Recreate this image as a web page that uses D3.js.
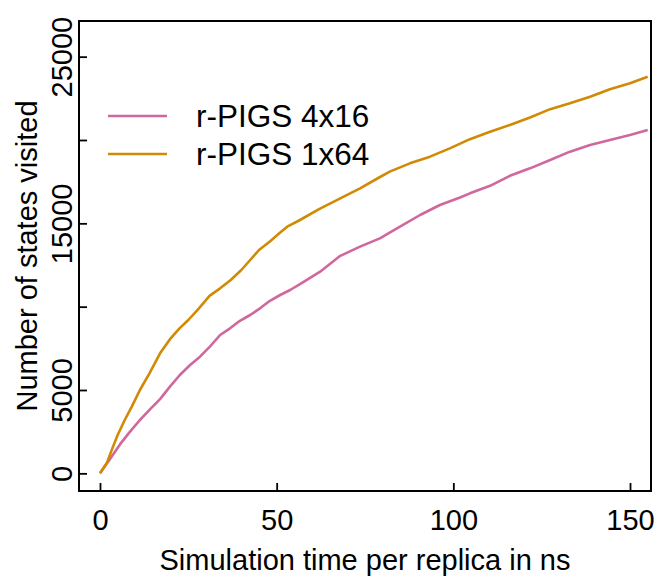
<!DOCTYPE html>
<html>
<head>
<meta charset="utf-8">
<script src="https://cdn.jsdelivr.net/npm/d3@7"></script>
<style>
  body { margin: 0; background: #fff; }
  text { font-family: "Liberation Sans", Arial, sans-serif; fill: #000; }
</style>
</head>
<body>
<script>
//values (time in ns, states visited)
var time4x16 = [0, 2.8, 5.7, 8.5, 11.3, 14.2, 17, 19.8, 22.6, 25.5, 28.3, 31.1, 34, 36.8, 39.6, 42.5, 45.3, 48.1, 51, 53.8,
  56.6, 62.3, 68, 73.6, 79.2, 84.9, 90.6, 96.2, 101.9, 104.7, 110.4, 116, 121.7, 127.4, 133, 138.7, 144.3, 150, 155];
var states4x16 = [0, 850, 1750, 2500, 3200, 3850, 4450, 5200, 5900, 6500, 7000, 7600, 8300, 8700, 9150, 9500, 9900, 10350, 10700, 11000,
  11350, 12100, 13050, 13600, 14100, 14800, 15500, 16100, 16550, 16800, 17250, 17850, 18300, 18800, 19300, 19700, 20000, 20300, 20600];

var time1x64 = [0, 2, 3.5, 5, 7, 9, 11.3, 14, 17, 20, 22.5, 25, 28, 31, 34, 37, 40, 42.5, 45, 48, 51, 53,
  56.6, 62, 68, 73.6, 79, 82, 87.7, 93.4, 99, 104.7, 110.4, 116, 121.7, 127.4, 133, 138.7, 144.3, 150, 155];
var states1x64 = [0, 650, 1500, 2300, 3200, 4000, 5000, 6000, 7200, 8100, 8700, 9200, 9900, 10650, 11100, 11600, 12200, 12800, 13400, 13900, 14450, 14800,
  15200, 15850, 16500, 17100, 17750, 18100, 18600, 19000, 19500, 20050, 20500, 20900, 21350, 21850, 22200, 22600, 23050, 23400, 23800];

var seriesNames = ["r-PIGS 4x16", "r-PIGS 1x64"];
var seriesColors = ["#d0679d", "#d18a04"];
var xTicks = [0, 50, 100, 150];
var yTicks = [0, 5000, 10000, 15000, 20000, 25000];
var yLabelled = [0, 5000, 15000, 25000]; //R drops the labels that would overlap

var width = 659, height = 577;
var fontSize = 29;

var svg = d3.select("body").append("svg")
    .attr("width", width)
    .attr("height", height);

var x = d3.scaleLinear().domain([-5.94, 155.94]).range([79, 651]);
var y = d3.scaleLinear().domain([-1060, 27140]).range([491, 21]);

//x axis, ticks point inward
svg.append("g")
    .attr("transform", "translate(0,491)")
    .call(d3.axisBottom(x).tickValues(xTicks).tickSizeInner(-8).tickSizeOuter(0).tickPadding(18))
    .call(function(g){
        g.select(".domain").remove();
        g.selectAll("line").attr("stroke", "#000").attr("stroke-width", 1.8);
        g.selectAll("text").attr("font-size", fontSize).attr("font-family", null);
    });

//y axis with rotated labels
svg.append("g")
    .attr("transform", "translate(79,0)")
    .call(d3.axisLeft(y).tickValues(yTicks).tickSizeInner(-8).tickSizeOuter(0)
        .tickFormat(function(d){ return yLabelled.indexOf(d) >= 0 ? d : ""; }))
    .call(function(g){
        g.select(".domain").remove();
        g.selectAll("line").attr("stroke", "#000").attr("stroke-width", 1.8);
        g.selectAll("text")
            .attr("font-size", fontSize)
            .attr("font-family", null)
            .attr("x", null).attr("dy", null)
            .attr("text-anchor", "middle")
            .attr("transform", "translate(-7,0) rotate(-90)");
    });

//the lines
var line = d3.line()
    .x(function(d){ return x(d[0]); })
    .y(function(d){ return y(d[1]); });

var series = [d3.zip(time4x16, states4x16), d3.zip(time1x64, states1x64)];

svg.selectAll(".series")
    .data(series)
    .enter()
    .append("path")
    .attr("class", "series")
    .attr("fill", "none")
    .attr("stroke", function(d, i){ return seriesColors[i]; })
    .attr("stroke-width", 2.6)
    .attr("stroke-linejoin", "round")
    .attr("d", line);

//box round the plot
svg.append("rect")
    .attr("x", 79).attr("y", 21)
    .attr("width", 651 - 79).attr("height", 491 - 21)
    .attr("fill", "none")
    .attr("stroke", "#000")
    .attr("stroke-width", 2);

//legend
var legend = svg.selectAll(".legend")
    .data(seriesNames)
    .enter()
    .append("g")
    .attr("class", "legend")
    .attr("transform", function(d, i){ return "translate(0," + (116 + i * 38) + ")"; });

legend.append("line")
    .attr("x1", 108).attr("x2", 167)
    .attr("stroke", function(d, i){ return seriesColors[i]; })
    .attr("stroke-width", 2.6);

legend.append("text")
    .attr("x", 196)
    .attr("y", 11)
    .attr("font-size", 31.5)
    .text(function(d){ return d; });

//axis titles
svg.append("text")
    .attr("x", 365)
    .attr("y", 570)
    .attr("text-anchor", "middle")
    .attr("font-size", fontSize)
    .text("Simulation time per replica in ns");

svg.append("text")
    .attr("transform", "translate(37,256) rotate(-90)")
    .attr("text-anchor", "middle")
    .attr("font-size", fontSize)
    .text("Number of states visited");
</script>
</body>
</html>
